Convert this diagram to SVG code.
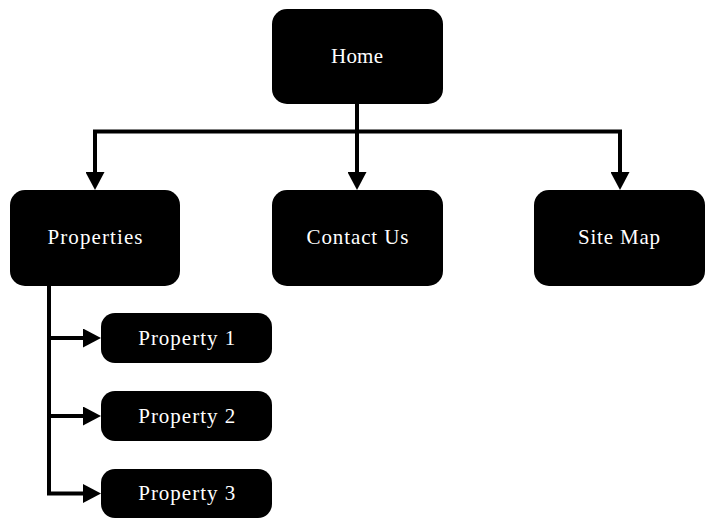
<svg xmlns="http://www.w3.org/2000/svg" width="714" height="529" viewBox="0 0 714 529">
<style>
.box{fill:#000}
.lbl{fill:#fff;font-family:"Liberation Serif","Times New Roman",serif;font-size:21px;text-anchor:middle}
.con{fill:none;stroke:#000;stroke-width:4;stroke-linejoin:miter}
</style>
<defs>
<marker id="ah" markerUnits="userSpaceOnUse" markerWidth="18" markerHeight="19" viewBox="0 0 18 19" refX="0" refY="9.5" orient="auto">
<path d="M0,0 L18,9.5 L0,19 z" fill="#000"/>
</marker>
</defs>
<rect width="714" height="529" fill="#fff"/>
<g id="connectors">
<path class="con" d="M357,104 V172" marker-end="url(#ah)"/>
<path class="con" d="M357,131.5 H95 V172" marker-end="url(#ah)"/>
<path class="con" d="M357,131.5 H620 V172" marker-end="url(#ah)"/>
<path class="con" d="M49,286 V493.5 H83" marker-end="url(#ah)"/>
<path class="con" d="M49,338 H83" marker-end="url(#ah)"/>
<path class="con" d="M49,416 H83" marker-end="url(#ah)"/>
</g>
<g id="home"><rect class="box" x="272" y="9" width="171" height="95" rx="15"/><text class="lbl" x="357" y="63" textLength="52">Home</text></g>
<g id="properties"><rect class="box" x="10" y="190" width="170" height="96" rx="15"/><text class="lbl" x="95" y="244" textLength="95">Properties</text></g>
<g id="contact"><rect class="box" x="272" y="190" width="171" height="96" rx="15"/><text class="lbl" x="357.5" y="243.5" textLength="102">Contact Us</text></g>
<g id="sitemap"><rect class="box" x="534" y="190" width="171" height="96" rx="15"/><text class="lbl" x="619" y="244" textLength="82">Site Map</text></g>
<g id="property1"><rect class="box" x="101" y="313" width="171" height="50" rx="14"/><text class="lbl" x="186.7" y="345" textLength="97">Property 1</text></g>
<g id="property2"><rect class="box" x="101" y="391" width="171" height="50" rx="14"/><text class="lbl" x="186.7" y="422.5" textLength="97">Property 2</text></g>
<g id="property3"><rect class="box" x="101" y="469" width="171" height="49" rx="14"/><text class="lbl" x="186.7" y="500" textLength="97">Property 3</text></g>
</svg>
